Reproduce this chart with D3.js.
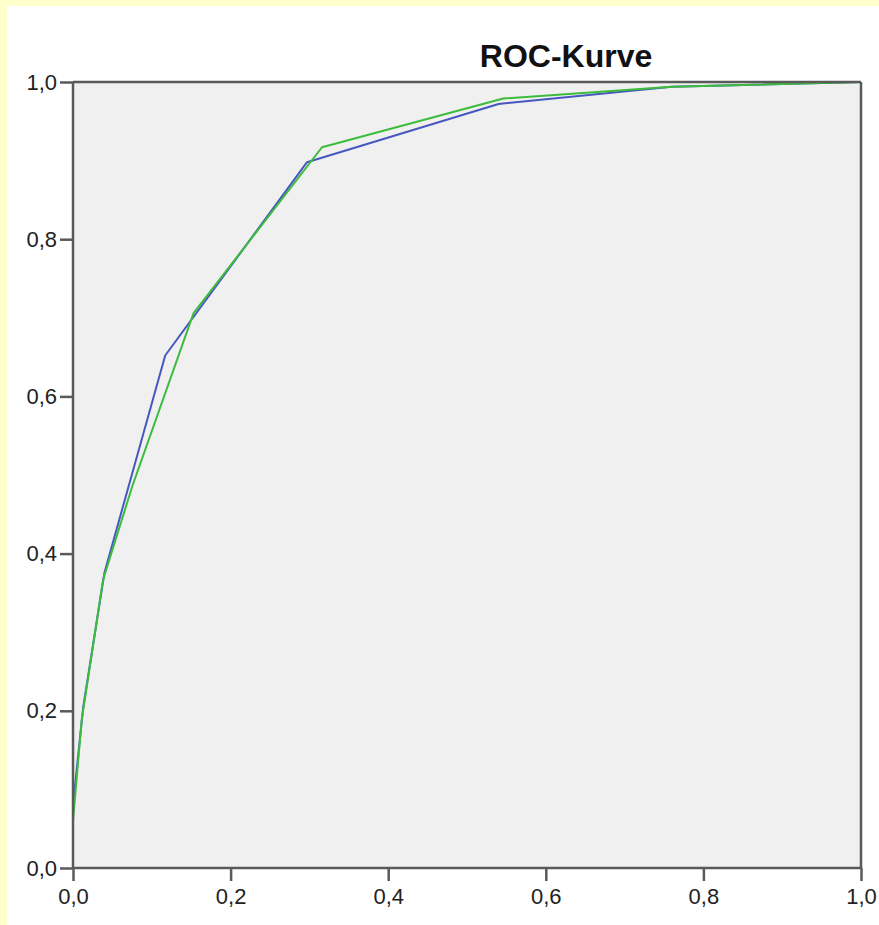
<!DOCTYPE html>
<html><head><meta charset="utf-8">
<script src="https://cdn.jsdelivr.net/npm/d3@7"></script>
<style>
html,body{margin:0;padding:0;background:#fff;}
svg{display:block;}
</style></head>
<body>
<svg id="chart" width="879" height="925"></svg>
<script>
const title = "ROC-Kurve";
const tickValues = [0, 0.2, 0.4, 0.6, 0.8, 1.0];
const tickLabels = ["0,0", "0,2", "0,4", "0,6", "0,8", "1,0"];
const blueFPR = [0, 0, 0.013, 0.040, 0.117, 0.297, 0.540, 0.760, 1.0];
const blueTPR = [0, 0.08, 0.205, 0.376, 0.652, 0.898, 0.972, 0.994, 1.0];
const greenFPR = [0, 0, 0.011, 0.038, 0.075, 0.153, 0.316, 0.546, 0.760, 1.0];
const greenTPR = [0, 0.06, 0.188, 0.366, 0.485, 0.706, 0.917, 0.979, 0.994, 1.0];

const svg = d3.select("#chart");
const W = 879, H = 925;
const m = {left: 73, right: 861, top: 82, bottom: 868};

svg.append("rect").attr("x",0).attr("y",0).attr("width",W).attr("height",6).attr("fill","#ffffcc");
svg.append("rect").attr("x",0).attr("y",0).attr("width",7).attr("height",H).attr("fill","#ffffcc");

const x = d3.scaleLinear().domain([0,1]).range([m.left, m.right]);
const y = d3.scaleLinear().domain([0,1]).range([m.bottom, m.top]);

svg.append("rect").attr("x",m.left).attr("y",m.top)
  .attr("width",m.right-m.left).attr("height",m.bottom-m.top).attr("fill","#f0f0f0");

const line = d3.line().x(d=>x(d[0])).y(d=>y(d[1]));
const blue = blueFPR.map((v,i)=>[v, blueTPR[i]]);
const green = greenFPR.map((v,i)=>[v, greenTPR[i]]);

svg.append("path").datum(blue).attr("d", line).attr("fill","none")
  .attr("stroke","#4757c0").attr("stroke-width",2).attr("stroke-linejoin","round");
svg.append("path").datum(green).attr("d", line).attr("fill","none")
  .attr("stroke","#3cbc3c").attr("stroke-width",2).attr("stroke-linejoin","round");

svg.append("line").attr("x1",m.left).attr("x2",m.right).attr("y1",m.top).attr("y2",m.top)
  .attr("stroke","#5a5a5a").attr("stroke-width",2.5);
svg.append("line").attr("x1",m.right).attr("x2",m.right).attr("y1",m.top).attr("y2",m.bottom)
  .attr("stroke","#5a5a5a").attr("stroke-width",2.5);

const fmt = d => tickLabels[tickValues.indexOf(d)];
const xAxis = d3.axisBottom(x).tickValues(tickValues).tickFormat(fmt).tickSize(13).tickPadding(7);
const yAxis = d3.axisLeft(y).tickValues(tickValues).tickFormat(fmt).tickSize(13).tickPadding(3);

const gx = svg.append("g").attr("transform",`translate(0,${m.bottom})`).call(xAxis);
const gy = svg.append("g").attr("transform",`translate(${m.left},0)`).call(yAxis);
[gx, gy].forEach(g => {
  g.select(".domain").attr("stroke","#5a5a5a").attr("stroke-width",2.5);
  g.selectAll(".tick line").attr("stroke","#5a5a5a").attr("stroke-width",2.5);
  g.selectAll(".tick text").attr("fill","#222").attr("font-family","Liberation Sans, Arial, sans-serif").attr("font-size",22);
});
gy.select(".domain").attr("d", `M0,${m.bottom}V${m.top}`);
gx.select(".domain").attr("d", `M${m.left},0H${m.right}`);

svg.append("text").attr("x",566).attr("y",67).attr("text-anchor","middle")
  .attr("font-family","Liberation Sans, Arial, sans-serif").attr("font-weight","bold")
  .attr("font-size",32).attr("fill","#111").text(title);
</script>
</body></html>
